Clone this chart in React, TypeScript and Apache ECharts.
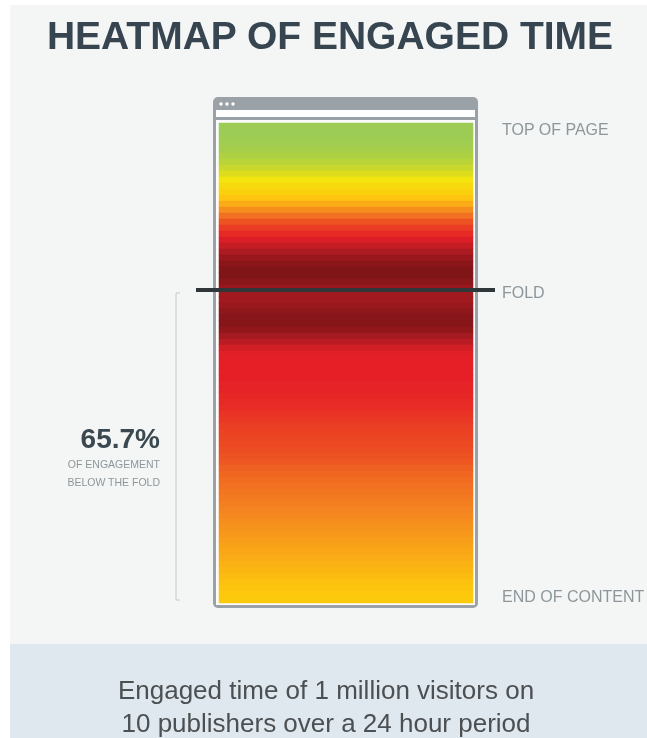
import React, { useEffect, useRef } from "react";
import * as echarts from "echarts";

// Page column (single heatmap column)
const columns = ["Page"];

// Scroll-depth rows, top of page to end of content
const depthRows = [
  "D01", "D02", "D03", "D04", "D05", "D06", "D07", "D08", "D09", "D10",
  "D11", "D12", "D13", "D14", "D15", "D16", "D17", "D18", "D19", "D20",
  "D21", "D22", "D23", "D24", "D25", "D26", "D27", "D28", "D29", "D30",
  "D31", "D32", "D33", "D34", "D35", "D36", "D37", "D38", "D39", "D40",
  "D41", "D42", "D43", "D44", "D45", "D46", "D47", "D48", "D49", "D50",
  "D51", "D52", "D53", "D54", "D55", "D56", "D57", "D58", "D59", "D60",
  "D61", "D62", "D63", "D64", "D65", "D66", "D67", "D68", "D69", "D70",
  "D71", "D72", "D73", "D74", "D75", "D76", "D77", "D78", "D79", "D80",
];

// Relative engaged time per row (0 = least, 100 = most)
const engagement = [
  0, 0, 1, 2, 4, 7, 11, 15, 20, 25,
  29, 33, 38, 43, 49, 55, 61, 67, 72, 77,
  82, 87, 92, 96, 99, 99, 96, 92, 90, 90,
  92, 95, 97, 97, 94, 89, 84, 79, 76, 75,
  75, 75, 75, 74, 74, 73, 72, 71, 69, 68,
  66, 65, 64, 63, 62, 61, 60, 58, 57, 56,
  55, 54, 53, 52, 51, 50, 49, 48, 47, 46,
  45, 44, 43, 42, 41, 40, 39, 38, 37, 36,
];

const heatColors = [
  "#9ccb56", "#bdd534", "#f3e30e", "#fdc70d", "#f5891f",
  "#ec4b23", "#e61f27", "#a91b21", "#7b1416",
];

const sideLabels = ["TOP OF PAGE", "FOLD", "END OF CONTENT"];
const titleText = "HEATMAP OF ENGAGED TIME";
const shareBelowFold = "65.7%";
const shareCaption = ["OF ENGAGEMENT", "BELOW THE FOLD"];
const footnote = ["Engaged time of 1 million visitors on", "10 publishers over a 24 hour period"];

const FONT = "'Liberation Sans', Arial, sans-serif";

export default function App() {
  const ref = useRef<HTMLDivElement>(null);

  useEffect(() => {
    if (!ref.current) return;
    const chart = echarts.init(ref.current, undefined, { renderer: "svg" });
    const data = engagement.map((v, i) => [0, i, v]);

    chart.setOption({
      animation: false,
      grid: { left: 219, top: 123, width: 254, height: 480 },
      xAxis: { type: "category", data: columns, show: false },
      yAxis: { type: "category", data: depthRows, inverse: true, show: false },
      visualMap: {
        show: false,
        min: 0,
        max: 100,
        dimension: 2,
        inRange: { color: heatColors },
      },
      graphic: [
        { type: "rect", z: -10, shape: { x: 0, y: 0, width: 647, height: 738 }, style: { fill: "#ffffff" } },
        { type: "rect", z: -9, shape: { x: 10, y: 5, width: 637, height: 639 }, style: { fill: "#f4f5f5" } },
        { type: "rect", z: -9, shape: { x: 10, y: 644, width: 637, height: 94 }, style: { fill: "#dfe8ee" } },
        // browser frame
        { type: "rect", z: -8, shape: { x: 213, y: 97, width: 265, height: 511, r: 5 }, style: { fill: "#9aa2a7" } },
        { type: "rect", z: -7, shape: { x: 216, y: 110, width: 259, height: 7 }, style: { fill: "#ffffff" } },
        { type: "rect", z: -7, shape: { x: 216, y: 120, width: 259, height: 485 }, style: { fill: "#fbfbfb" } },
        { type: "circle", z: -7, shape: { cx: 221, cy: 104, r: 1.7 }, style: { fill: "#ffffff" } },
        { type: "circle", z: -7, shape: { cx: 227, cy: 104, r: 1.7 }, style: { fill: "#ffffff" } },
        { type: "circle", z: -7, shape: { cx: 233, cy: 104, r: 1.7 }, style: { fill: "#ffffff" } },
        // fold line
        { type: "rect", z: 50, shape: { x: 196, y: 288, width: 299, height: 4 }, style: { fill: "#30373a" } },
        // bracket
        {
          type: "polyline",
          z: 5,
          shape: { points: [[180, 293], [176, 293], [176, 600], [180, 600]] },
          style: { stroke: "#c3cacd", lineWidth: 1, fill: "none" },
        },
        // title
        {
          type: "text", z: 5, x: 330, y: 35,
          style: { text: titleText, fill: "#36454f", font: `bold 39px ${FONT}`, textAlign: "center", textVerticalAlign: "middle" },
        },
        // side labels
        {
          type: "text", z: 5, x: 502, y: 129,
          style: { text: sideLabels[0], fill: "#8d979b", font: `16px ${FONT}`, textAlign: "left", textVerticalAlign: "middle" },
        },
        {
          type: "text", z: 5, x: 502, y: 292,
          style: { text: sideLabels[1], fill: "#8d979b", font: `16px ${FONT}`, textAlign: "left", textVerticalAlign: "middle" },
        },
        {
          type: "text", z: 5, x: 502, y: 596,
          style: { text: sideLabels[2], fill: "#8d979b", font: `16px ${FONT}`, textAlign: "left", textVerticalAlign: "middle" },
        },
        // share annotation
        {
          type: "text", z: 5, x: 160, y: 438,
          style: { text: shareBelowFold, fill: "#3a4850", font: `bold 28px ${FONT}`, textAlign: "right", textVerticalAlign: "middle" },
        },
        {
          type: "text", z: 5, x: 160, y: 464,
          style: { text: shareCaption[0], fill: "#8d979b", font: `10.5px ${FONT}`, textAlign: "right", textVerticalAlign: "middle" },
        },
        {
          type: "text", z: 5, x: 160, y: 482,
          style: { text: shareCaption[1], fill: "#8d979b", font: `10.5px ${FONT}`, textAlign: "right", textVerticalAlign: "middle" },
        },
        // footnote
        {
          type: "text", z: 5, x: 326, y: 690,
          style: { text: footnote[0], fill: "#4c5053", font: `26px ${FONT}`, textAlign: "center", textVerticalAlign: "middle" },
        },
        {
          type: "text", z: 5, x: 326, y: 723,
          style: { text: footnote[1], fill: "#4c5053", font: `26px ${FONT}`, textAlign: "center", textVerticalAlign: "middle" },
        },
      ],
      series: [
        {
          type: "heatmap",
          data,
          itemStyle: { borderWidth: 0 },
          emphasis: { disabled: true },
        },
      ],
    });

    return () => chart.dispose();
  }, []);

  return (
    <div
      ref={ref}
      style={{ position: "fixed", left: 0, top: 0, width: 647, height: 738 }}
    />
  );
}
